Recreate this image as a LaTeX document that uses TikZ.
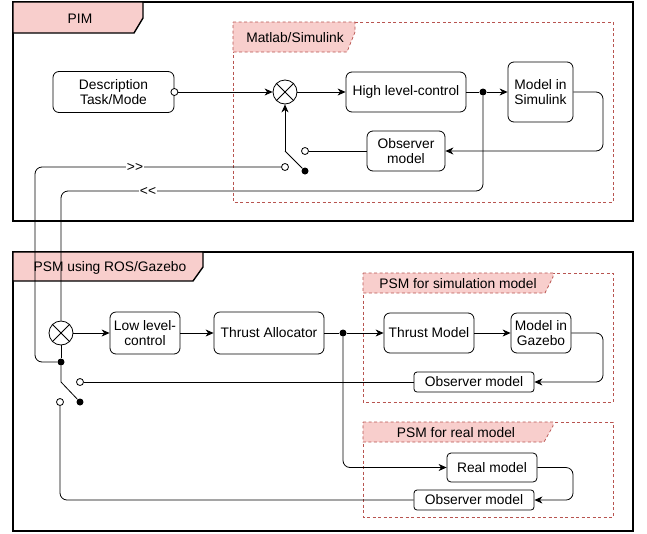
\documentclass[tikz,border=0pt]{standalone}
\usepackage{fontspec}
\setmainfont{Liberation Sans}
\usetikzlibrary{arrows.meta,positioning}
\definecolor{tabpink}{HTML}{F8CECC}
\definecolor{tabred}{HTML}{B85450}
\begin{document}
\begin{tikzpicture}[x=1pt,y=-1pt,font=\fontsize{13.8}{15.5}\selectfont,
                    >={Stealth[length=8pt,width=7pt,inset=2.5pt]},
                    blk/.style={draw,rounded corners=6pt,fill=white,line width=0.8pt,align=center,inner sep=1pt},
                    frm/.style={draw,line width=1.6pt},
                    frametab/.style={draw,line width=1.4pt,fill=tabpink},
                    zone/.style={draw=tabred,dash pattern=on 3pt off 2.5pt,line width=0.7pt},
                    zonetab/.style={zone,fill=tabpink},
                    mul/.style={draw,circle,minimum size=24pt,inner sep=0pt,fill=white,line width=0.8pt},
                    jdot/.style={fill=black,circle,minimum size=7pt,inner sep=0pt},
                    port/.style={draw,circle,fill=white,minimum size=7pt,inner sep=0pt,line width=0.8pt},
                    wire/.style={line width=0.8pt},
                    route/.style={wire,rounded corners=7pt},
                    flow/.style={fill=white,inner sep=0.5pt}]
                      \useasboundingbox (0,0) rectangle (647,533);
                      % PIM frame
                      \draw[frm] (13,2) rectangle (633,221);
                      \draw[frametab] (13,2) -- (143,2) -- (143,18) -- (134,33) -- (13,33) -- cycle;
                      \node (pimlbl) at (80,19) {PIM};
                      \draw[zone] (233,22) rectangle (613,202);
                      \draw[zonetab] (233,22) -- (355,22) -- (355,32) -- (347,52) -- (233,52) -- cycle;
                      \node (matlbl) at (295,38) {Matlab/Simulink};

                      % PSM frame
                      \draw[frm] (13,252) rectangle (633,531);
                      \draw[frametab] (13,252) -- (203,252) -- (203,267) -- (193,281) -- (13,281) -- cycle;
                      \node (psmlbl) at (110,268) {PSM using ROS/Gazebo};
                      \draw[zone] (363,273) rectangle (613,402);
                      \draw[zonetab] (363,273) -- (553,273) -- (553,277) -- (545,293) -- (363,293) -- cycle;
                      \node (simlbl) at (458,284) {PSM for simulation model};
                      \draw[zone] (363,422) rectangle (613,517);
                      \draw[zonetab] (363,422) -- (553,422) -- (553,426) -- (544,442) -- (363,442) -- cycle;
                      \node (reallbl) at (456,433) {PSM for real model};

                      % PIM blocks
                      \node[blk,minimum width=121pt,minimum height=41pt] (desc) at (113.5,92) {Description\\Task/Mode};
                      \node[port] (descout) at (desc.east) {};
                      \node[mul] (mulpim) at (285,92) {};
                      \node[blk,minimum width=120pt,minimum height=40pt] (hlc) at (406,92) {High level-control};
                      \node[blk,minimum width=65pt,minimum height=60pt] (simmod) at (540.5,92) {Model in\\Simulink};
                      \node[blk,minimum width=78pt,minimum height=40pt] (obspim) at (406,151) {Observer\\model};
                      \node[jdot] (jpim) at (483,92) {};
                      \coordinate (swpim) at (285,151);
                      \node[port] (inpim) at (305,151) {};
                      \node[port] (fbpim) at (285,167) {};
                      \node[jdot] (tippim) at (305,171) {};

                      % PSM blocks
                      \node[mul] (mulpsm) at (61,333) {};
                      \node[blk,minimum width=70pt,minimum height=42pt] (llc) at (145,333) {Low level-\\control};
                      \node[blk,minimum width=110pt,minimum height=42pt] (thr) at (269,333) {Thrust Allocator};
                      \node[jdot] (jalloc) at (343,333) {};
                      \node[blk,minimum width=90pt,minimum height=40pt] (tm) at (429,333) {Thrust Model};
                      \node[blk,minimum width=60pt,minimum height=40pt] (gzmod) at (541,333) {Model in\\Gazebo};
                      \node[blk,rounded corners=3pt,minimum width=120pt,minimum height=20pt] (obssim) at (474,382) {Observer model};
                      \node[blk,rounded corners=4pt,minimum width=90pt,minimum height=29pt] (realmod) at (492,467.5) {Real model};
                      \node[blk,rounded corners=3pt,minimum width=120pt,minimum height=20pt] (obsreal) at (474,500) {Observer model};
                      \node[jdot] (jpsm) at (61,362) {};
                      \coordinate (swpsm) at (61,382);
                      \node[port] (insim) at (80,382) {};
                      \node[port] (inreal) at (60,402) {};
                      \node[jdot] (tippsm) at (80,402) {};

                      % crosses
                      \draw[wire] (mulpim.north east) -- (mulpim.south west) (mulpim.north west) -- (mulpim.south east);
                      \draw[wire] (mulpsm.north east) -- (mulpsm.south west) (mulpsm.north west) -- (mulpsm.south east);

                      % PIM wires
                      \draw[wire,->] (descout) -- (mulpim);
                      \draw[wire,->] (mulpim) -- (hlc);
                      \draw[wire] (hlc) -- (jpim);
                      \draw[wire,->] (jpim) -- (simmod);
                      \draw[route,->] (simmod.east) -- (603,92) -- (603,151) -- (obspim.east);
                      \draw[wire] (obspim.west) -- (inpim);
                      \draw[wire,->] (swpim) -- (mulpim.south);
                      \draw[wire] (swpim) -- (tippim);

                      % links between PIM and PSM
                      \draw[route] (jpsm) -- (35,362) -- (35,167) -- (fbpim);
                      \draw[route] (jpim) -- (483,191) -- (61,191) -- (mulpsm.north);
                      \node[flow] (fwd) at (135,167) {>\kern0pt>};
                      \node[flow] (bwd) at (148,191) {<\kern0pt<};

                      % PSM wires
                      \draw[wire,->] (mulpsm) -- (llc);
                      \draw[wire,->] (llc) -- (thr);
                      \draw[wire] (thr) -- (jalloc);
                      \draw[wire,->] (jalloc) -- (tm);
                      \draw[wire,->] (tm) -- (gzmod);
                      \draw[route,->] (gzmod.east) -- (603,333) -- (603,382) -- (obssim.east);
                      \draw[wire] (obssim.west) -- (insim);
                      \draw[route,->] (jalloc) -- (343,467.5) -- (realmod.west);
                      \draw[route,->] (realmod.east) -- (573,467.5) -- (573,500) -- (obsreal.east);
                      \draw[route] (obsreal.west) -- (60,500) -- (inreal);
                      \draw[wire] (mulpsm) -- (jpsm);
                      \draw[wire] (jpsm) -- (swpsm) -- (tippsm);
                    \end{tikzpicture}
\end{document}
